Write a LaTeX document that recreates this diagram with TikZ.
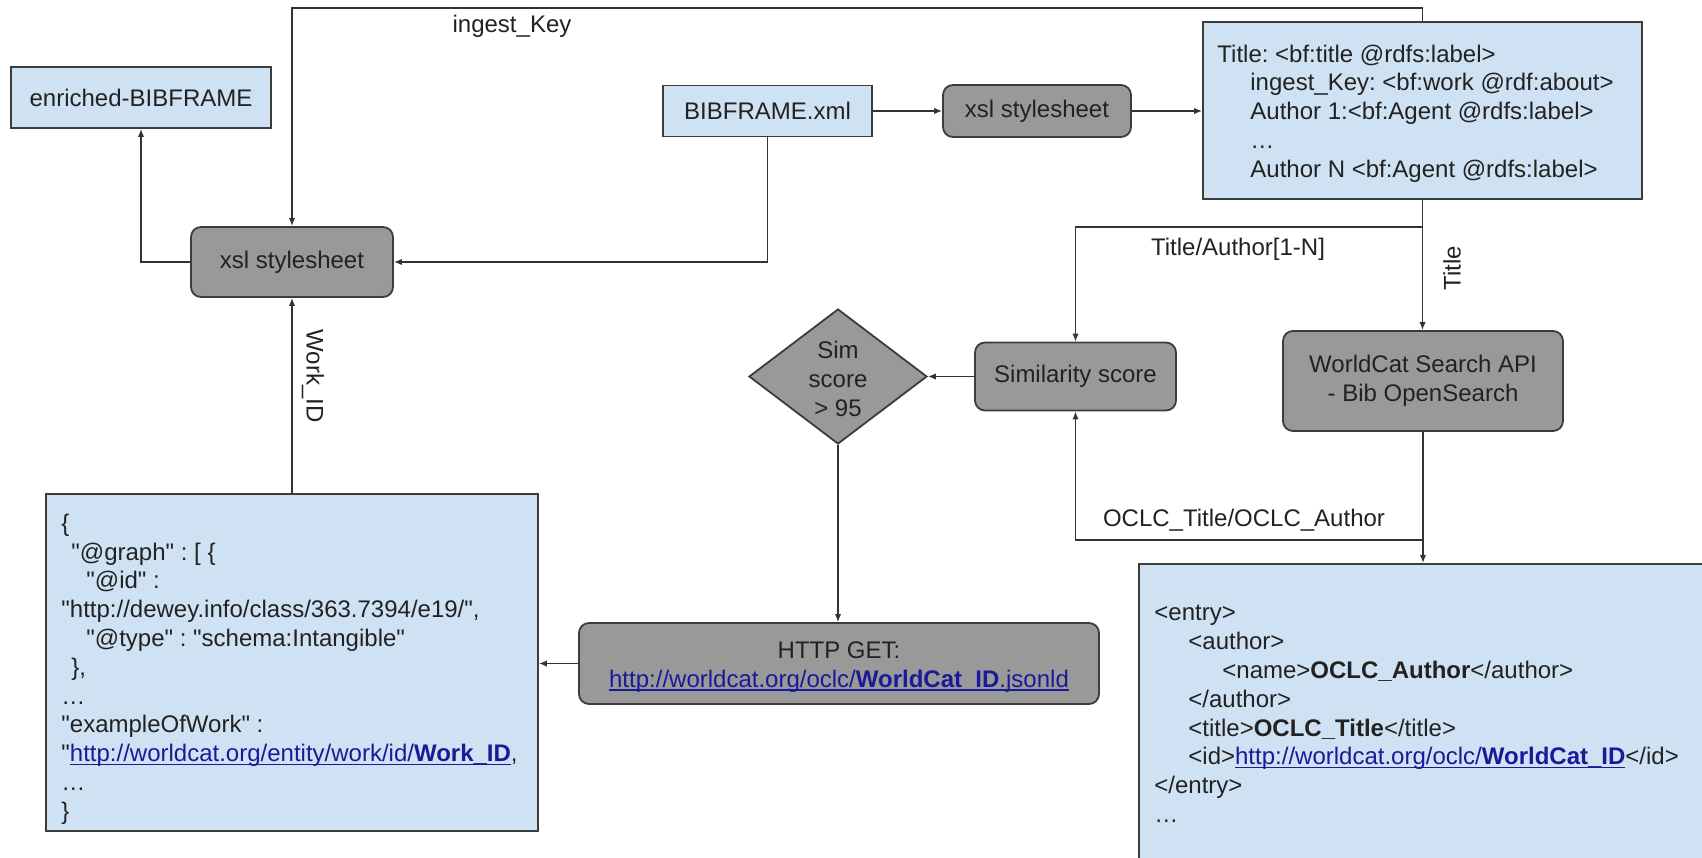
\documentclass[tikz,border=0pt]{standalone}
\usepackage{fontspec}
\setmainfont{Liberation Sans}[Ligatures=TeXOff]
\usetikzlibrary{shapes.geometric,arrows.meta}
\definecolor{lblue}{HTML}{CFE2F3}
\definecolor{pgray}{HTML}{999999}
\definecolor{bord}{HTML}{3C3C3C}
\definecolor{link}{HTML}{1A1A99}
\definecolor{wire}{HTML}{333333}
\definecolor{ink}{HTML}{222222}
\newsavebox{\lnkbox}
\newcommand{\lnk}[1]{\textcolor{link}{\sbox{\lnkbox}{#1}\rlap{\rule[-1.6pt]{\wd\lnkbox}{0.6pt}}\usebox{\lnkbox}}}
\frenchspacing
\begin{document}
\begin{tikzpicture}[x=0.5pt,y=-0.5pt,
  font=\fontsize{12pt}{14.4pt}\selectfont\frenchspacing,
  every node/.style={text=ink},
  lightbox/.style={draw=bord, fill=lblue, line width=0.9pt, inner sep=0pt},
  procbox/.style={draw=bord, fill=pgray, line width=0.9pt, rounded corners=5pt, inner sep=0pt, align=center},
  conn/.style={draw=wire, line width=0.75pt, -{Latex[length=4pt,width=3.2pt]}},
  lbl/.style={inner sep=0pt}]
\path[use as bounding box] (0,0) rectangle (1702,857);
\clip (0,0) rectangle (1702,857);

% nodes
\node[lightbox, minimum width=130pt, minimum height=30.5pt] (enr) at (141,97.5) {enriched-BIBFRAME};
\node[procbox, minimum width=101pt, minimum height=35pt] (xslL) at (292,262) {xsl stylesheet};
\node[lightbox, minimum width=104.5pt, minimum height=25.5pt] (bib) at (767.5,111) {BIBFRAME.xml};
\node[procbox, minimum width=94pt, minimum height=26pt] (xslT) at (1037,111) {xsl stylesheet};
\node[lightbox, minimum width=219.5pt, minimum height=88.5pt] (title) at (1422.5,110.5) {};
\node[lbl, anchor=west, align=left] (titletxt) at (1217,113.5)
 {Title: <bf:title @rdfs:label>\\
  \hspace*{16.5pt}ingest\_Key: <bf:work @rdf:about>\\
  \hspace*{16.5pt}Author 1:<bf:Agent @rdfs:label>\\
  \hspace*{16.5pt}…\\
  \hspace*{16.5pt}Author N <bf:Agent @rdfs:label>};
\node[procbox, minimum width=100.5pt, minimum height=34pt] (sim) at (1075.5,376.5) {Similarity score};
\node[procbox, minimum width=140pt, minimum height=50pt] (ws) at (1423,381) {WorldCat Search API\\- Bib OpenSearch};
\node[diamond, draw=bord, fill=pgray, line width=0.9pt, inner sep=0pt, minimum width=89pt, minimum height=67.5pt] (dia) at (838,376.5) {};
\node[lbl, align=center] (diatxt) at (838,379) {Sim\\score\\> 95};
\node[procbox, minimum width=260pt, minimum height=40.5pt] (http) at (839,663.5) {};
\node[lbl, align=center] (httptxt) at (839,667)
 {HTTP GET:\\\lnk{http://worldcat.org/oclc/\textbf{WorldCat\_ID}.jsonld}};
\node[lightbox, minimum width=246pt, minimum height=168.5pt] (json) at (292,662.5) {};
\node[lbl, anchor=west, align=left] (jsontxt) at (61,669)
 {\{\\
  \hspace*{5pt}"@graph" : [ \{\\
  \hspace*{12.5pt}"@id" :\\
  "http://dewey.info/class/363.7394/e19/",\\
  \hspace*{12.5pt}"@type" : "schema:Intangible"\\
  \hspace*{5pt}\},\\
  …\\
  "exampleOfWork" :\\
  "\lnk{http://worldcat.org/entity/work/id/\textbf{Work\_ID}},\\
  …\\
  \}};
\node[lightbox, anchor=north west, minimum width=291pt, minimum height=160pt] (entry) at (1138,563) {};
\node[lbl, anchor=north west, align=left] (entrytxt) at (1154,605)
 {<entry>\\
  \hspace*{17pt}<author>\\
  \hspace*{34pt}<name>\textbf{OCLC\_Author}</author>\\
  \hspace*{17pt}</author>\\
  \hspace*{17pt}<title>\textbf{OCLC\_Title}</title>\\
  \hspace*{17pt}<id>\lnk{http://worldcat.org/oclc/\textbf{WorldCat\_ID}}</id>\\
  </entry>\\
  …};

% connectors
\coordinate (topr) at (1422.5,8);
\draw[conn] (title.north) -- (topr) -| (xslL.north);
\node[lbl] (lk) at (512,26) {ingest\_Key};

\draw[conn] (bib.east) -- (xslT.west);
\draw[conn] (xslT.east) -- (xslT.east -| title.west);
\draw[conn] (bib.south) |- (xslL.east);
\draw[conn] (xslL.west) -| (enr.south);
\draw[conn] (json.north) -- (xslL.south);
\node[lbl, rotate=-90] (lw) at (313,376) {Work\_ID};

\draw[conn] (title.south) -- (title.south |- ws.north);
\node[lbl, rotate=90] (lt) at (1452,268) {Title};
\coordinate (br1) at (1422.5,227);
\draw[conn] (br1) -| (sim.north);
\node[lbl] (lta) at (1238,249) {Title/Author[1-N]};

\draw[conn] (sim.west) -- (dia.east);
\draw[conn] (dia.south) -- (dia.south |- http.north);
\draw[conn] (http.west) -- (http.west -| json.east);

\draw[conn] (ws.south) -- (ws.south |- entry.north);
\coordinate (br2) at (1423,540);
\draw[conn] (br2) -| (sim.south);
\node[lbl] (loa) at (1244,520) {OCLC\_Title/OCLC\_Author};
\end{tikzpicture}
\end{document}
